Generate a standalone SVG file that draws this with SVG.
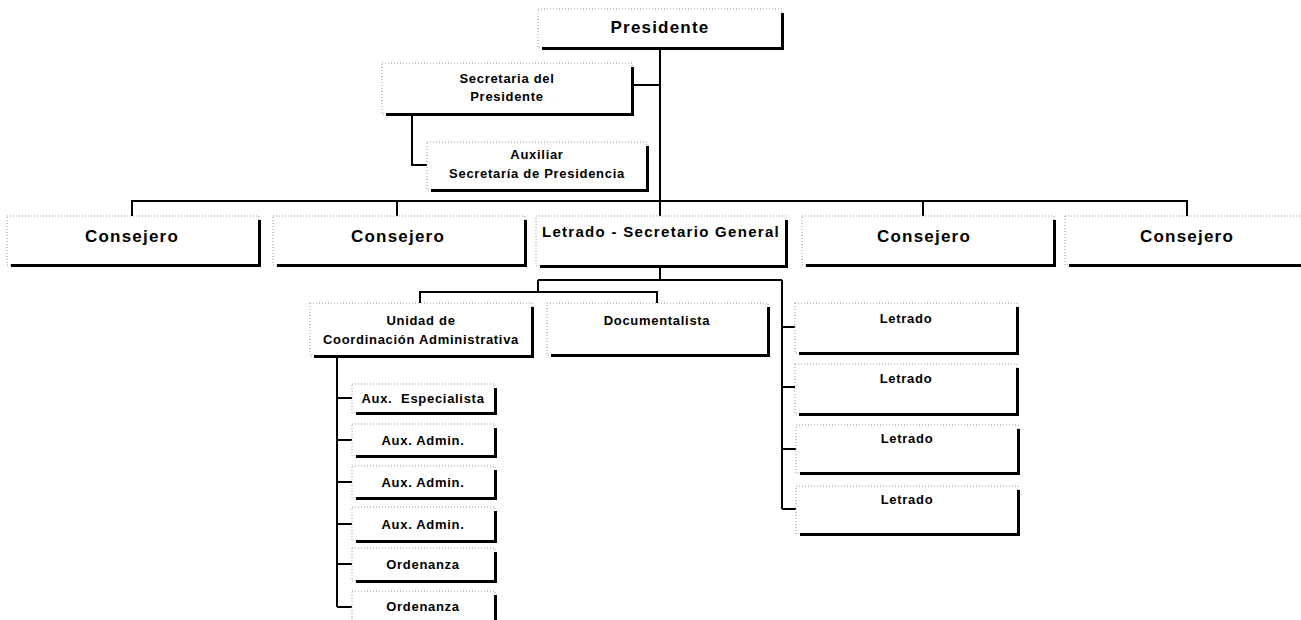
<svg xmlns="http://www.w3.org/2000/svg" width="1301" height="620" viewBox="0 0 1301 620">
<style>
.box{fill:#fff;stroke:#999;stroke-width:1;stroke-dasharray:1 2}
.sh{fill:none;stroke:#000;stroke-width:3}
.t{font-family:"Liberation Sans",Arial,sans-serif;font-weight:bold;fill:#000;text-anchor:middle}
.big{font-size:17px;letter-spacing:1.2px}
.mid{font-size:15px;letter-spacing:1.3px}
.sm{font-size:13px;letter-spacing:0.7px}
.con{fill:none;stroke:#000;stroke-width:2}
</style>
<rect width="1301" height="620" fill="#fff"/>
<g id="connectors">
<path class="con" d="M660,48V201M632,85H660M412,115V165H427"/>
<path class="con" d="M132,216V201H1187V216M397,201V216M660,201V216M923,201V216"/>
<path class="con" d="M660,267V280M538,280H782M538,280V292M420,303V292H657V303"/>
<path class="con" d="M782,280V509M782,327H795M782,387H795M782,449H796M782,509H796"/>
<path class="con" d="M337,357V607M337,398H352M337,440H352M337,482H352M337,524H352M337,564H352M337,607H352"/>
</g>
<g id="presidente"><rect class="box" x="538" y="9" width="244" height="39"/><path class="sh" d="M542,48.5H782.5V13"/><text class="t big" x="660" y="33">Presidente</text></g>
<g id="secretaria"><rect class="box" x="382" y="63" width="250" height="51"/><path class="sh" d="M386,114.5H632.5V67"/><text class="t sm" x="507" y="83">Secretaria del</text><text class="t sm" x="507" y="101">Presidente</text></g>
<g id="auxiliar"><rect class="box" x="427" y="142" width="220" height="48"/><path class="sh" d="M431,190.5H647.5V146"/><text class="t sm" x="537" y="159">Auxiliar</text><text class="t sm" x="537" y="178">Secretaría de Presidencia</text></g>
<g id="consejero1"><rect class="box" x="7" y="216" width="252" height="49"/><path class="sh" d="M11,265.5H259.5V220"/><text class="t big" x="132" y="242">Consejero</text></g>
<g id="consejero2"><rect class="box" x="273" y="216" width="252" height="49"/><path class="sh" d="M277,265.5H525.5V220"/><text class="t big" x="398" y="242">Consejero</text></g>
<g id="secretario-general"><rect class="box" x="536" y="216" width="250" height="50"/><path class="sh" d="M540,266.5H786.5V220"/><text class="t mid" x="661" y="237">Letrado - Secretario General</text></g>
<g id="consejero3"><rect class="box" x="802" y="216" width="252" height="49"/><path class="sh" d="M806,265.5H1054.5V220"/><text class="t big" x="924" y="242">Consejero</text></g>
<g id="consejero4"><rect class="box" x="1065" y="216" width="250" height="49"/><path class="sh" d="M1069,265.5H1315.5V220"/><text class="t big" x="1187" y="242">Consejero</text></g>
<g id="unidad"><rect class="box" x="310" y="303" width="222" height="53"/><path class="sh" d="M314,356.5H532.5V307"/><text class="t sm" x="421" y="325">Unidad de</text><text class="t sm" x="421" y="344">Coordinación Administrativa</text></g>
<g id="documentalista"><rect class="box" x="547" y="303" width="221" height="52"/><path class="sh" d="M551,355.5H768.5V307"/><text class="t sm" x="657" y="325">Documentalista</text></g>
<g id="letrado1"><rect class="box" x="795" y="303" width="222" height="50"/><path class="sh" d="M799,353.5H1017.5V307"/><text class="t sm" x="906" y="323">Letrado</text></g>
<g id="letrado2"><rect class="box" x="795" y="364" width="222" height="50"/><path class="sh" d="M799,414.5H1017.5V368" stroke-width="2"/><text class="t sm" x="906" y="383">Letrado</text></g>
<g id="letrado3"><rect class="box" x="796" y="425" width="222" height="48"/><path class="sh" d="M800,473.5H1018.5V429" stroke-width="2"/><text class="t sm" x="907" y="443">Letrado</text></g>
<g id="letrado4"><rect class="box" x="796" y="486" width="222" height="48"/><path class="sh" d="M800,534.5H1018.5V490" stroke-width="2"/><text class="t sm" x="907" y="504">Letrado</text></g>
<g id="aux-especialista"><rect class="box" x="352" y="384" width="143" height="29"/><path class="sh" d="M356,413.5H495.5V388"/><text class="t sm" x="423" y="403" xml:space="preserve">Aux.  Especialista</text></g>
<g id="aux-admin1"><rect class="box" x="352" y="424" width="143" height="32"/><path class="sh" d="M356,456.5H495.5V428"/><text class="t sm" x="423" y="445">Aux. Admin.</text></g>
<g id="aux-admin2"><rect class="box" x="352" y="466" width="143" height="32"/><path class="sh" d="M356,498.5H495.5V470"/><text class="t sm" x="423" y="487">Aux. Admin.</text></g>
<g id="aux-admin3"><rect class="box" x="352" y="507" width="143" height="34"/><path class="sh" d="M356,541.5H495.5V511"/><text class="t sm" x="423" y="529">Aux. Admin.</text></g>
<g id="ordenanza1"><rect class="box" x="352" y="548" width="143" height="33"/><path class="sh" d="M356,581.5H495.5V552" stroke-width="2"/><text class="t sm" x="423" y="569">Ordenanza</text></g>
<g id="ordenanza2"><rect class="box" x="352" y="591" width="143" height="35"/><path class="sh" d="M495.5,626V595"/><text class="t sm" x="423" y="611">Ordenanza</text></g>
</svg>
